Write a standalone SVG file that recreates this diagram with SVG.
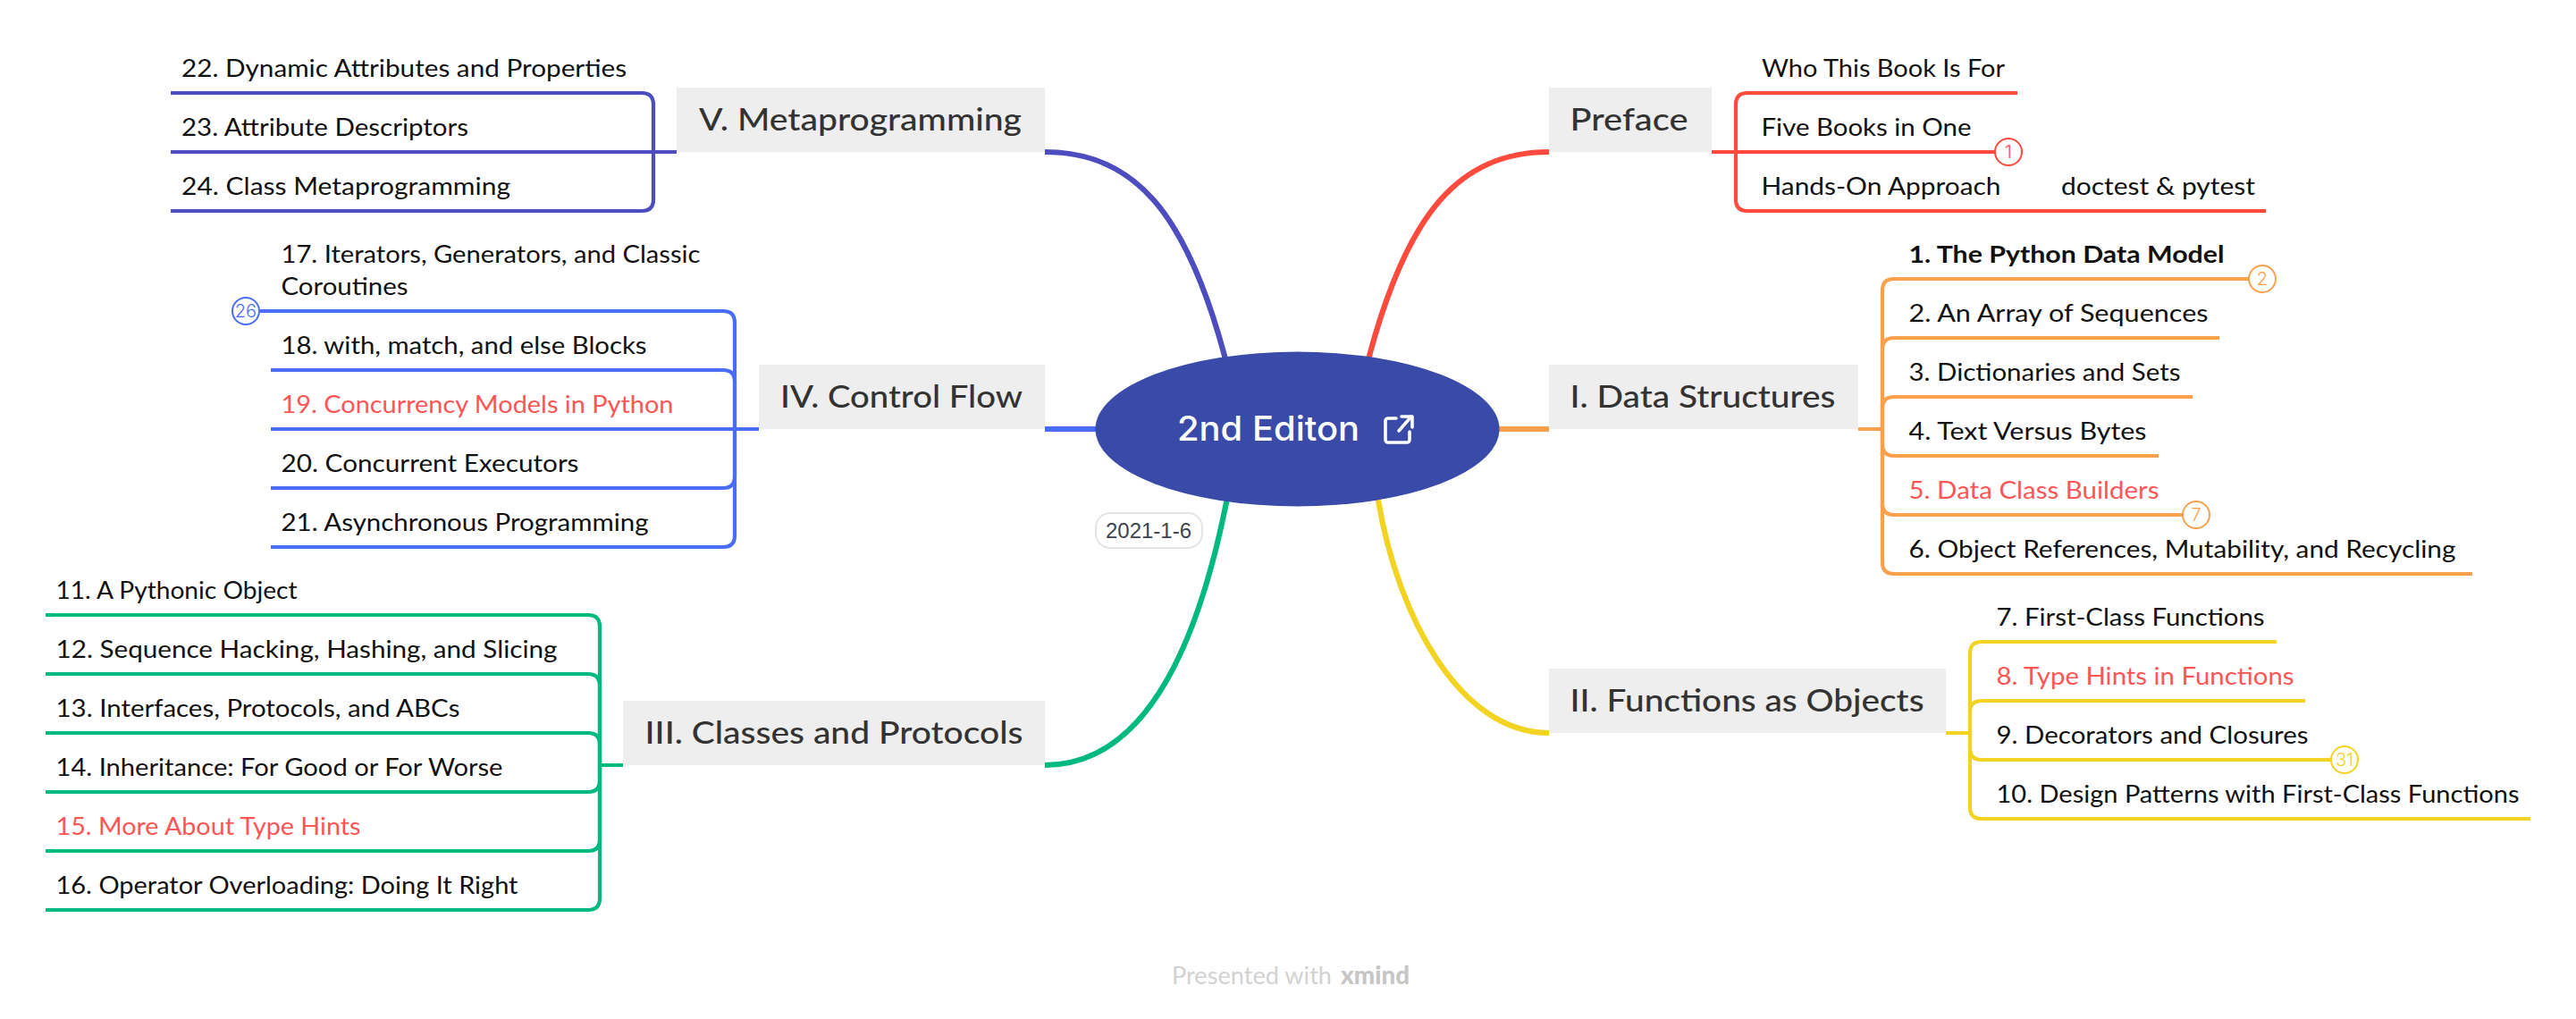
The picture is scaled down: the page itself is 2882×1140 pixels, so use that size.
<svg xmlns="http://www.w3.org/2000/svg" width="2882" height="1140" viewBox="0 0 2882 1140">
<style>
text{font-family:"Lato","Noto Sans",sans-serif}
.bg{fill:#fff}
.t{fill:#eee}
.tt{font-size:34.5px;fill:#333;font-weight:500}
.i{font-size:27px;fill:#111}
.r{fill:#ff5555}
.b{font-weight:700}
.c{fill:none;stroke-width:4.2}
.m{fill:none;stroke-width:6.2}
.red{stroke:#ff4a3d}.org{stroke:#f9a04d}.yel{stroke:#f3d321}.grn{stroke:#00b97e}.blu{stroke:#4a6cf7}.pur{stroke:#4d4dbf}
.bd{fill:#fff;stroke-width:2}
.bt{font-family:"Inter","Liberation Sans",sans-serif;font-size:20px;font-weight:300;text-anchor:middle}
</style>
<rect class="bg" width="2882" height="1140"/>
<g id="connectors">
<path class="m red" d="M1733 170C1633 170 1575 238 1532 398L1528 415"/>
<path class="m pur" d="M1169 170C1269 170 1327 238 1370 398L1374 415"/>
<path class="m org" d="M1733 480H1600"/>
<path class="m blu" d="M1169 480H1300"/>
<path class="m yel" d="M1733 820C1633 820 1564 690 1542 560L1539 545"/>
<path class="m grn" d="M1169 856C1289 856 1344 702 1372 562L1375 545"/>
<path class="c red" d="M1915 170H1942V117Q1942 104 1955 104H2257"/>
<path class="c red" d="M1915 170H2232"/>
<path class="c red" d="M1942 170V223Q1942 236 1955 236H2535"/>
<path class="c org" d="M2079 480H2106V325Q2106 312 2119 312H2516"/>
<path class="c org" d="M2106 480V391Q2106 378 2119 378H2483"/>
<path class="c org" d="M2106 480V457Q2106 444 2119 444H2453"/>
<path class="c org" d="M2106 480V497Q2106 510 2119 510H2415"/>
<path class="c org" d="M2106 480V563Q2106 576 2119 576H2442"/>
<path class="c org" d="M2106 480V629Q2106 642 2119 642H2766"/>
<path class="c yel" d="M2177 820H2204V731Q2204 718 2217 718H2547"/>
<path class="c yel" d="M2204 820V797Q2204 784 2217 784H2579"/>
<path class="c yel" d="M2204 820V837Q2204 850 2217 850H2608"/>
<path class="c yel" d="M2204 820V903Q2204 916 2217 916H2831"/>
<path class="c grn" d="M697 856H671V701Q671 688 658 688H51"/>
<path class="c grn" d="M671 856V767Q671 754 658 754H51"/>
<path class="c grn" d="M671 856V833Q671 820 658 820H51"/>
<path class="c grn" d="M671 856V873Q671 886 658 886H51"/>
<path class="c grn" d="M671 856V939Q671 952 658 952H51"/>
<path class="c grn" d="M671 856V1005Q671 1018 658 1018H51"/>
<path class="c blu" d="M849 480H822V361Q822 348 809 348H291"/>
<path class="c blu" d="M822 480V427Q822 414 809 414H303"/>
<path class="c blu" d="M822 480H303"/>
<path class="c blu" d="M822 480V533Q822 546 809 546H303"/>
<path class="c blu" d="M822 480V599Q822 612 809 612H303"/>
<path class="c pur" d="M757 170H731V117Q731 104 718 104H191"/>
<path class="c pur" d="M757 170H191"/>
<path class="c pur" d="M731 170V223Q731 236 718 236H191"/>
</g>
<g id="central">
<ellipse cx="1451.5" cy="480" rx="226" ry="86.5" fill="#3a4aa9"/>
<text x="1317" y="493" font-size="38" fill="#fff" font-weight="500" textLength="204" lengthAdjust="spacingAndGlyphs" style="font-family:Inter,'Liberation Sans',sans-serif">2nd Editon</text>
<path d="M1562 468H1553a3 3 0 0 0-3 3V492a3 3 0 0 0 3 3H1574a3 3 0 0 0 3-3V483M1565 482L1579 466M1568 466H1580V478" fill="none" stroke="#fff" stroke-width="3.6" stroke-linecap="round" stroke-linejoin="round"/>
</g>
<g id="date-label">
<rect x="1226" y="574" width="119" height="39" rx="16" fill="#fff" stroke="#e5e5e5" stroke-width="2"/>
<text x="1237" y="602" font-size="24" fill="#3d4350" textLength="96" lengthAdjust="spacingAndGlyphs" style="font-family:'Liberation Sans',sans-serif">2021-1-6</text>
</g>
<g id="preface">
<rect class="t" x="1733" y="98" width="182" height="72"/>
<text class="tt" x="1756.5" y="146" textLength="132" lengthAdjust="spacingAndGlyphs">Preface</text>
</g>
<g id="preface-who"><text class="i" x="1971" y="86" textLength="272" lengthAdjust="spacingAndGlyphs">Who This Book Is For</text></g>
<g id="preface-five"><text class="i" x="1970.5" y="152" textLength="235" lengthAdjust="spacingAndGlyphs">Five Books in One</text>
<circle class="bd" cx="2247" cy="170" r="15" stroke="#ff4a3d"/><text class="bt" x="2247" y="177" fill="#ff4a3d">1</text></g>
<g id="preface-hands"><text class="i" x="1970.5" y="218" textLength="268" lengthAdjust="spacingAndGlyphs">Hands-On Approach</text></g>
<g id="preface-doctest"><text class="i" x="2306" y="218" textLength="217" lengthAdjust="spacingAndGlyphs">doctest &amp; pytest</text></g>
<g id="part1">
<rect class="t" x="1733" y="408" width="346" height="72"/>
<text class="tt" x="1756.5" y="456" textLength="297" lengthAdjust="spacingAndGlyphs">I. Data Structures</text>
</g>
<g id="ch1"><text class="i b" x="2135.5" y="294" textLength="353" lengthAdjust="spacingAndGlyphs">1. The Python Data Model</text>
<circle class="bd" cx="2531" cy="312" r="15" stroke="#f9a04d"/><text class="bt" x="2531" y="319" fill="#f9a04d">2</text></g>
<g id="ch2"><text class="i" x="2135.5" y="360" textLength="335" lengthAdjust="spacingAndGlyphs">2. An Array of Sequences</text></g>
<g id="ch3"><text class="i" x="2135.5" y="426" textLength="304" lengthAdjust="spacingAndGlyphs">3. Dictionaries and Sets</text></g>
<g id="ch4"><text class="i" x="2135.5" y="492" textLength="266" lengthAdjust="spacingAndGlyphs">4. Text Versus Bytes</text></g>
<g id="ch5"><text class="i r" x="2135.5" y="558" textLength="280" lengthAdjust="spacingAndGlyphs">5. Data Class Builders</text>
<circle class="bd" cx="2457" cy="576" r="15" stroke="#f9a04d"/><text class="bt" x="2457" y="583" fill="#f9a04d">7</text></g>
<g id="ch6"><text class="i" x="2135.5" y="624" textLength="612" lengthAdjust="spacingAndGlyphs">6. Object References, Mutability, and Recycling</text></g>
<g id="part2">
<rect class="t" x="1733" y="748" width="444" height="72"/>
<text class="tt" x="1756.5" y="796" textLength="396" lengthAdjust="spacingAndGlyphs">II. Functions as Objects</text>
</g>
<g id="ch7"><text class="i" x="2233.5" y="700" textLength="300" lengthAdjust="spacingAndGlyphs">7. First-Class Functions</text></g>
<g id="ch8"><text class="i r" x="2233.5" y="766" textLength="333" lengthAdjust="spacingAndGlyphs">8. Type Hints in Functions</text></g>
<g id="ch9"><text class="i" x="2233.5" y="832" textLength="349" lengthAdjust="spacingAndGlyphs">9. Decorators and Closures</text>
<circle class="bd" cx="2623" cy="850" r="15" stroke="#f3d321"/><text class="bt" x="2623" y="857" fill="#f3d321">31</text></g>
<g id="ch10"><text class="i" x="2233.5" y="898" textLength="585" lengthAdjust="spacingAndGlyphs">10. Design Patterns with First-Class Functions</text></g>
<g id="part3">
<rect class="t" x="697" y="784" width="472" height="72"/>
<text class="tt" x="721.5" y="832" textLength="423" lengthAdjust="spacingAndGlyphs">III. Classes and Protocols</text>
</g>
<g id="ch11"><text class="i" x="62.5" y="670" textLength="270" lengthAdjust="spacingAndGlyphs">11. A Pythonic Object</text></g>
<g id="ch12"><text class="i" x="62.5" y="736" textLength="561" lengthAdjust="spacingAndGlyphs">12. Sequence Hacking, Hashing, and Slicing</text></g>
<g id="ch13"><text class="i" x="62.5" y="802" textLength="452" lengthAdjust="spacingAndGlyphs">13. Interfaces, Protocols, and ABCs</text></g>
<g id="ch14"><text class="i" x="62.5" y="868" textLength="500" lengthAdjust="spacingAndGlyphs">14. Inheritance: For Good or For Worse</text></g>
<g id="ch15"><text class="i r" x="62.5" y="934" textLength="341" lengthAdjust="spacingAndGlyphs">15. More About Type Hints</text></g>
<g id="ch16"><text class="i" x="62.5" y="1000" textLength="517" lengthAdjust="spacingAndGlyphs">16. Operator Overloading: Doing It Right</text></g>
<g id="part4">
<rect class="t" x="849" y="408" width="320" height="72"/>
<text class="tt" x="873" y="456" textLength="271" lengthAdjust="spacingAndGlyphs">IV. Control Flow</text>
</g>
<g id="ch17"><text class="i" x="314.5" y="294" textLength="469" lengthAdjust="spacingAndGlyphs">17. Iterators, Generators, and Classic</text>
<text class="i" x="314.5" y="330" textLength="142" lengthAdjust="spacingAndGlyphs">Coroutines</text>
<circle class="bd" cx="275" cy="348" r="15" stroke="#4a6cf7"/><text class="bt" x="275" y="355" fill="#4a6cf7">26</text></g>
<g id="ch18"><text class="i" x="314.5" y="396" textLength="409" lengthAdjust="spacingAndGlyphs">18. with, match, and else Blocks</text></g>
<g id="ch19"><text class="i r" x="314.5" y="462" textLength="439" lengthAdjust="spacingAndGlyphs">19. Concurrency Models in Python</text></g>
<g id="ch20"><text class="i" x="314.5" y="528" textLength="333" lengthAdjust="spacingAndGlyphs">20. Concurrent Executors</text></g>
<g id="ch21"><text class="i" x="314.5" y="594" textLength="411" lengthAdjust="spacingAndGlyphs">21. Asynchronous Programming</text></g>
<g id="part5">
<rect class="t" x="757" y="98" width="412" height="72"/>
<text class="tt" x="782" y="146" textLength="361" lengthAdjust="spacingAndGlyphs">V. Metaprogramming</text>
</g>
<g id="ch22"><text class="i" x="203" y="86" textLength="498" lengthAdjust="spacingAndGlyphs">22. Dynamic Attributes and Properties</text></g>
<g id="ch23"><text class="i" x="203" y="152" textLength="321" lengthAdjust="spacingAndGlyphs">23. Attribute Descriptors</text></g>
<g id="ch24"><text class="i" x="203" y="218" textLength="368" lengthAdjust="spacingAndGlyphs">24. Class Metaprogramming</text></g>
<g id="footer">
<text x="1311" y="1101" font-size="27" fill="#d2d2d2" textLength="179" lengthAdjust="spacingAndGlyphs">Presented with</text>
<text x="1500" y="1101" font-size="28" fill="#c6c6c6" font-weight="900" textLength="77" lengthAdjust="spacingAndGlyphs">xmind</text>
</g>
</svg>
